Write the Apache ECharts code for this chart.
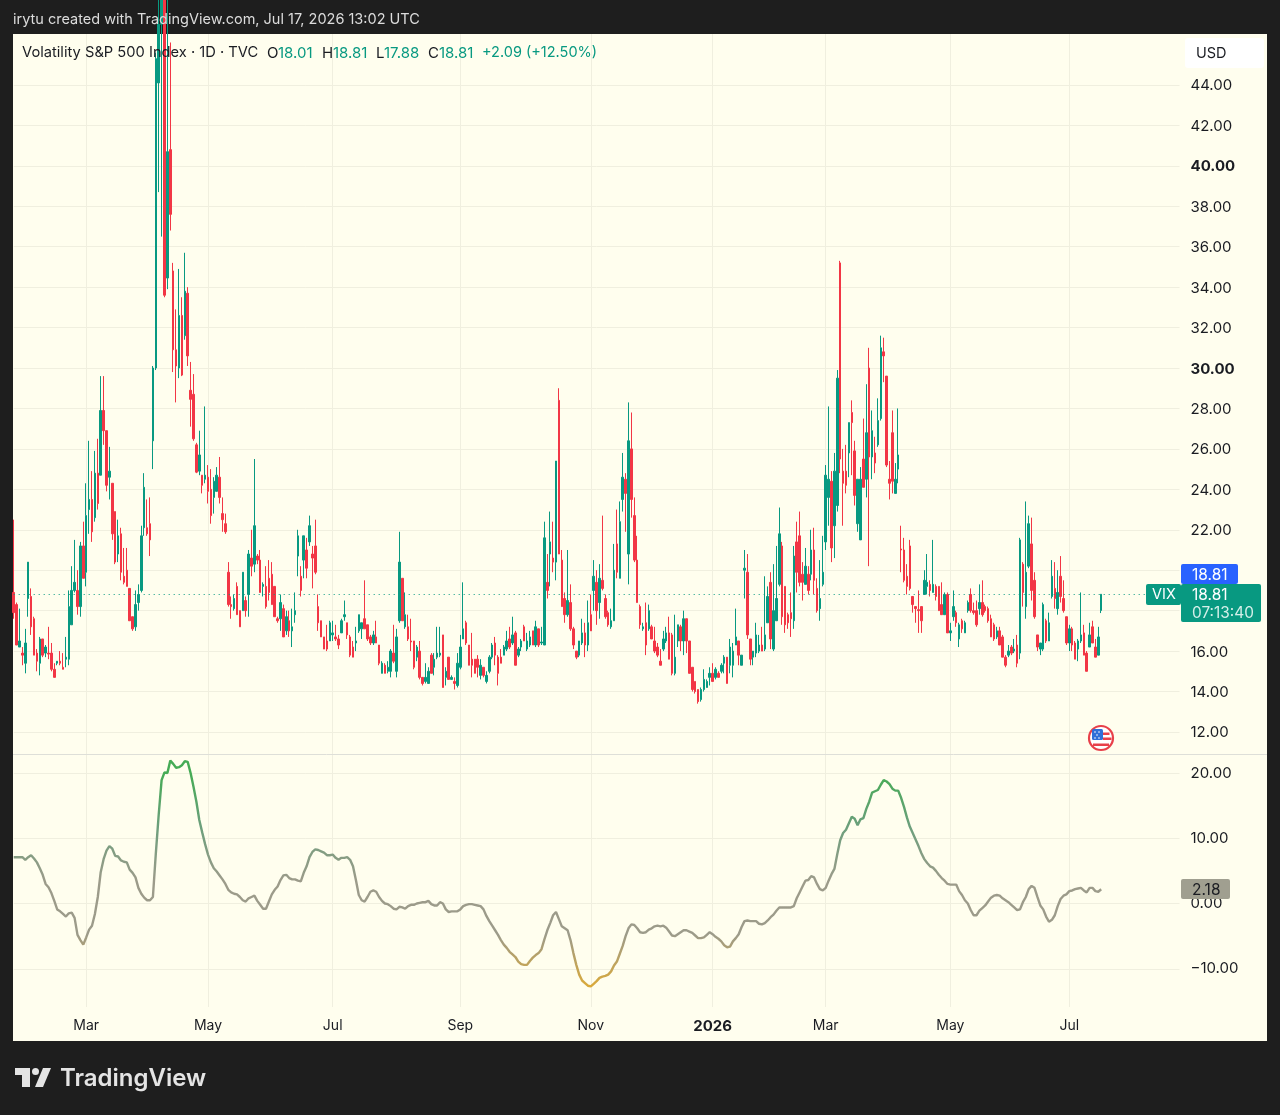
<!DOCTYPE html>
<html>
<head>
<meta charset="utf-8">
<title>Volatility S&P 500 Index</title>
<script src="https://cdn.jsdelivr.net/npm/echarts@6/dist/echarts.min.js"></script>
<style>
  html, body { margin: 0; padding: 0; background: #1e1e1e; }
  #chart { width: 1280px; height: 1115px; }
</style>
</head>
<body>
<div id="chart"></div>
<script>
// Daily VIX bars: open, high, low, close
const ohlc = [
  [18.9,22.5,17.6,17.9],[18.3,18.4,16.3,16.3],[16.2,18.1,16.2,16.5],[15.9,16.2,15.3,15.8],[15.4,17.1,14.9,16.4],
  [18.6,20.4,17.7,20.4],[18.7,19.1,16.8,17.2],[17.6,17.7,15.8,15.8],[15.9,16.1,15,15.5],[15.4,16.7,14.8,16.6],
  [16.6,16.6,15.7,15.8],[15.9,16.3,15.7,16.2],[15.9,17.2,15.6,15.85],[15.9,16.4,15,15.1],[15.1,15.4,14.7,14.7],
  [15.4,15.5,15.3,15.5],[15.5,16,15.3,15.4],[15.2,15.9,15.1,15.1],[15.6,16.7,15.2,15.7],[15.6,19,15.3,18.2],
  [17.3,20.2,17.3,19],[19,21.5,18.9,19.4],[19,20,17.8,18.2],[18.2,21.4,17.7,21.2],[21.2,22.4,19.6,19.6],
  [19.9,24.3,19.2,22.7],[23,26.4,21.8,23.5],[23.5,24.9,21.4,21.9],[22.6,25.9,22.4,24.8],[24.8,26.5,23,23.3],
  [24.7,29.6,24.7,27.9],[27.9,29.6,26.2,26.9],[26.9,26.9,23.9,24.2],[24.6,26.1,23.5,24.9],[24.3,24.3,21.5,21.8],
  [22.9,22.9,20.3,20.4],[20.8,22.5,20.4,21.7],[21.8,22.1,19.5,19.9],[19.7,21.1,19.3,19.4],[20,21.1,19.2,19.2],
  [19.1,19.1,17.5,17.5],[17.7,17.7,17,17.1],[17.2,19,17,18.3],[18.4,19.3,18,18.8],[19,22.2,18.9,21.7],
  [22.1,24.8,21.7,24.1],[22.1,23.5,21.7,21.8],[22.3,23.6,20.7,21.5],[26.4,30.1,25,30],[30,45.6,29.9,45.3],
  [44.1,60,38.7,47],[47,57.5,36.5,52.3],[57,57.5,33.5,33.6],[34.45,54.8,33.9,40.7],[40.8,46.1,36.8,37.6],
  [34.8,35.2,29.8,30.9],[30.9,32.9,28.3,30.1],[30,34.9,29.5,32.6],[32.6,33.5,29.6,29.65],[31.6,35.7,31.4,33.8],
  [33.7,34,30.1,30.6],[28.9,30.3,27.1,28.45],[28.7,29.7,26.4,26.5],[26.2,26.3,24.8,24.85],[24.9,26.9,24.7,25.7],
  [24.7,24.7,23.8,24.2],[24.5,28.1,24.3,24.7],[24.6,25.2,23.3,23.9],[24,25,22.3,22.7],[23.6,24.6,22.8,24.4],
  [23.9,25.1,23.9,24.7],[24.6,25.6,23.3,23.6],[22.8,23.6,21.9,22.5],[22.3,22.8,21.8,21.9],[19.9,20.4,18.2,18.3],
  [18.3,18.7,17.6,18.2],[18.1,18.8,18,18.6],[19.2,19.4,17.8,17.8],[18,18,17.2,17.2],[18,19.9,18,19.9],
  [18.5,18.7,17.7,18],[18.8,21,17.7,20.8],[20.6,22,19.7,20.2],[20.3,25.5,19.9,22.2],[20.7,20.8,20.3,20.5],
  [20.5,21,18.9,18.9],[19.2,19.4,18.7,19.3],[19.2,20.2,18.1,18.2],[19.6,20.5,18.5,18.9],[19.8,20.4,18.3,18.3],
  [19.2,19.2,17.7,17.7],[17.6,17.7,17.4,17.5],[17.6,18.8,17,18.4],[18.1,18.3,16.7,16.7],[17,18,16.8,17.7],
  [17.5,18,16.7,17],[17,18.1,16.2,17.2],[17.8,18.9,17.4,18],[20.7,22,19.7,21.7],[19.7,20.2,18.7,19],
  [20.5,21.7,19.6,21.7],[21,21.6,19.6,20.1],[21.4,22.7,21.2,22.2],[20.8,21.2,19.1,20.6],[21.2,22.5,19.8,19.9],
  [18.2,18.8,17,17.4],[17.5,17.5,16.7,16.7],[16.7,16.7,16.1,16.1],[16.5,17.3,16,16.1],[16.5,17.5,16.5,17.4],
  [16.8,17.5,16.5,16.9],[16.7,17.3,16.5,16.6],[16.6,16.8,16.1,16.3],[16.9,17.6,16.9,17.5],[17.7,18.5,17.5,17.8],
  [17.4,17.4,16.6,16.8],[16.7,16.8,15.7,15.8],[16.2,16.5,15.7,15.7],[16.4,17.2,16,16.5],[17,17.8,16.9,17.8],
  [17.1,17.4,16.6,17.4],[17.6,19.5,17.1,17.1],[17.3,17.3,16.5,16.6],[16.7,16.8,16.3,16.4],[16.4,17,16.3,16.8],
  [16.7,17.5,16.4,16.4],[16.3,16.3,15.3,15.4],[14.9,15.5,14.9,15.4],[15.3,15.4,14.9,14.9],[15,15.5,14.9,15.2],
  [15,16.1,14.7,16],[15.9,17.3,15.4,15.5],[15,17.1,14.7,16.7],[17.5,21.9,17.4,20.4],[19.6,19.6,17.5,17.5],
  [17.2,18.9,17.1,17.8],[17.2,17.8,16.5,16.6],[16.5,17.6,16,16.45],[16.5,16.5,15.1,15.2],[15.7,16.3,15.5,16.2],
  [16,16.5,14.6,14.7],[14.7,14.7,14.3,14.4],[14.5,15.4,14.4,14.7],[14.4,15.2,14.4,15],[15.8,15.9,14.9,14.9],
  [15.2,15.9,14.8,15.6],[15.7,17.2,15.6,15.9],[15.8,17.2,15.7,15.9],[16.8,16.8,14.2,14.2],[14.7,15.2,14.3,15],
  [15.7,15.7,14.6,14.6],[14.6,14.8,14.6,14.7],[14.5,14.7,14.1,14.4],[14.3,15.9,14.2,15.4],[15.2,16.8,15.1,16.2],
  [16.6,19.4,16.6,17.1],[17.4,17.5,16.3,16.4],[16.3,16.3,15.3,15.3],[15.6,16.9,14.7,15.3],[15.6,15.6,14.9,14.9],
  [15.6,15.8,14.7,15.2],[14.8,15.6,14.6,15.3],[15.2,15.2,14.7,14.8],[14.5,15,14.4,14.8],[15,15.8,14.9,15.7],
  [15.7,16.4,15.6,16.3],[16.4,16.7,15.3,15.8],[15.7,15.8,14.3,14.9],[15.7,16.1,15.4,15.4],[15.8,16.3,15.8,16.2],
  [16.1,17,16,16.5],[16.6,17.2,16.1,16.2],[16.4,17.7,16.3,16.8],[16.9,17,15.3,15.3],[15.8,16.2,15.7,16.1],
  [16.2,16.6,16,16.5],[17.2,17.3,16.5,16.5],[16.1,16.9,16,16.5],[16.3,17,16.2,16.7],[17,17,16.3,16.3],
  [16.3,17.5,16.2,17.2],[17.1,17.1,16.2,16.3],[16.4,17.2,16.3,16.45],[16.3,22.4,16.3,21.6],[19.4,20.8,18.6,19],
  [20.8,22.9,19.2,21.4],[20.6,22.4,19.9,20.4],[20.4,25.4,19.5,25.4],[28.4,29,20.8,20.8],[20.5,21,18.2,18.2],
  [18.6,18.9,17.4,17.8],[17.8,21,17.7,18.5],[18.4,19.3,17,17.1],[17.1,17.2,16.1,16.3],[16,16,15.6,15.7],
  [15.8,16.5,15.7,16.5],[16.4,17.6,16.3,16.9],[16.9,17.4,15.7,16.3],[16.3,18.5,16,17.4],[17.8,18.8,17,17],
  [19,20.5,18,19.7],[19.4,20,17.3,18],[18.4,20.3,17.6,19.6],[19.5,22.7,19,19.1],[18.6,18.8,17.6,17.7],
  [17.9,18,17.2,17.3],[17.2,18.1,17.1,17.5],[17.5,21.3,17.5,20],[21.3,23,19.6,19.9],[19.6,23.4,19.6,22.4],
  [23.5,25.8,22.9,24.6],[24.5,24.8,21.9,23.8],[20.8,28.3,19.3,26.4],[26,27.8,22.6,23.5],[22.7,23.6,20.4,20.5],
  [20.5,21.7,18.4,18.4],[18.2,18.3,17.1,17.3],[17.1,17.4,17,17.2],[17.4,18.4,15.8,16.3],[17.1,18.3,17,18],
  [17.2,17.3,16.6,16.6],[16.5,17.2,15.9,16],[16.2,16.4,15.7,15.8],[15.5,16.1,15.3,15.3],[16.1,17,16,16.6],
  [16.5,17.2,16.4,16.9],[16.9,17.7,15.6,15.6],[16.8,16.9,14.8,14.9],[14.9,17.8,14.8,15.7],[16.5,17.3,16.2,17.3],
  [17.2,17.3,16,16.5],[16.5,18,15.8,17.6],[17.6,17.6,15.9,16.5],[16.5,16.5,14.9,14.9],[15.2,15.2,14,14.1],
  [14.5,14.5,13.9,14],[14.1,14.1,13.4,13.5],[13.6,14.2,13.5,14.1],[14.1,15.1,14,14.6],[14.2,14.6,14.2,14.5],
  [14.7,15.2,14.3,14.9],[14.9,15.4,14.5,14.5],[14.7,15.2,14.6,15.1],[14.9,15,14.7,14.7],[15,15.4,14.9,15.3],
  [15.4,15.8,14.9,15.7],[15.7,15.7,14.4,14.4],[15.3,16.6,14.9,16.2],[15.3,16.4,14.7,16],[16.3,18.1,16.3,16.7],
  [16.5,16.5,15.3,15.8],[15.3,15.8,15.3,15.8],[20,21,18.6,20.1],[19.9,20.8,16.6,16.8],[16.6,16.6,15.3,15.6],
  [15.7,16,15.3,16],[15.9,17.4,15.7,16.8],[16,16.8,15.9,16.3],[16.3,17.2,16,16],[16.1,19.7,16,16.8],
  [17.4,19.2,17.4,18.7],[19.4,19.9,16.1,16.6],[16.1,20.3,16,18],[17.5,21.2,17.5,18.6],[19.3,23.1,19.2,21.8],
  [21.2,21.4,17.3,17.7],[19.2,19.2,16.9,17.3],[17.8,17.9,17.1,17.4],[17.9,18.9,16.7,17.6],[17.5,21.2,17.1,20.7],
  [21.4,22.4,18.9,19.9],[21.7,22.9,19.2,19.4],[19.8,20.4,18.5,19.4],[19.3,21.1,19.3,20.2],[19.8,20.2,18.8,19],
  [19.8,22,19.5,21],[21,22.1,18.8,19.5],[19.1,19.6,17.9,18],[18.1,20.5,17.5,18.6],[19.3,21.7,19.2,19.9],
  [21.4,25.2,21,24.7],[23.6,28.1,22.2,24.5],[24.4,24.9,20.4,21.1],[22.2,25.8,20.6,24.9],[23.2,29.9,22.9,29.5],
  [35.2,35.3,24.8,25.5],[24.9,26,22.2,24.3],[24.9,26.2,23.8,24.2],[25.8,27.3,24.6,27.3],[27.8,28.4,24.7,27.3],
  [25.9,26.4,23.2,23.7],[22.3,24.5,21.9,24.5],[21.5,25.1,21.5,24.5],[25.5,27.5,24.1,24.1],[24.5,29.2,23.6,26.8],
  [30,31,20.2,25.6],[25.6,27.9,24.5,26.9],[25.8,26.6,24.8,25.3],[26.2,28.5,26.1,27.4],[27.5,31.6,27.4,31],
  [30.8,31.5,29.3,30.6],[29.6,29.6,25.1,25.2],[24.5,25.4,23.5,24.3],[26.8,27.9,23.8,24.4],[23.8,25.3,23.8,24.5],
  [25,28,24.3,25.7],[21.05,22.2,19.9,21],[21,21.6,19.4,19.5],[19.7,20.3,18.8,19.2],[21.2,21.5,19,19.1],
  [18.7,18.7,17.9,18.3],[18.2,18.2,17.4,18.1],[18.05,19,16.9,18],[18.2,18.2,16.9,17.5],[18.8,20,18.8,19.5],
  [19.2,20.8,18.8,19.4],[19.3,19.5,18.7,19],[18.9,21.5,18.9,19.3],[19.2,19.3,18.5,18.7],[19.2,19.2,18,18],
  [18.3,19.4,17.8,17.8],[17.8,18.9,17.8,18.8],[18.8,18.9,16.9,16.9],[16.9,17.4,16.5,17],[17.7,19,17.5,18.2],
  [17.9,18,17.2,17.4],[16.6,17.4,16.2,17.3],[17.5,17.6,16.9,17.1],[16.9,17.5,16.9,17.4],[18,18.5,17.9,18.4],
  [18.8,19.1,17.9,18],[18,18.4,17.8,17.9],[18,18.5,17.2,17.3],[18.1,19.3,17.8,18.4],[18.4,19.5,17.7,17.8],
  [18.2,18.3,17.9,18],[18.1,18.2,17.4,17.5],[17.6,17.8,16.7,16.7],[17.3,17.4,16.5,16.6],[16.7,17.2,16.6,17],
  [17,17.2,16.3,16.3],[16.7,16.8,15.7,15.7],[15.7,15.8,15.2,15.3],[15.8,16.3,15.7,16],[16.2,16.3,15.8,15.9],
  [16,16.6,15.9,16.1],[16.3,16.8,15.2,15.4],[15.9,21.6,15.6,21.5],[20.3,20.4,18.2,18.9],[18.2,23.4,17.6,19.9],
  [20.2,22.7,20.1,22.3],[21.3,22.6,18.5,19],[19.5,19.9,17.6,17.7],[16.8,16.8,16,16.2],[16.1,16.4,15.8,16.4],
  [16.1,18.4,16,18.3],[17.5,17.6,16.4,16.5],[16.5,17.9,16.5,17.4],[18.7,20.5,18.6,19.7],[19.1,20.4,18.1,18.6],
  [18.1,20,17.8,18.9],[19.7,20.7,18.4,18.7],[18.6,19.5,17.9,18],[17.7,17.7,16.3,16.4],[16.4,17.3,16,17.1],
  [17.1,17.2,16,16.3],[16.4,16.5,15.6,15.6],[16.1,16.6,15.5,16.5],[16.5,18.9,16.4,16.8],[16.9,17.3,15.8,15.8],
  [15.9,16,15,15],[16.2,17.4,16.2,16.8],[17.2,17.5,16.4,16.4],[16.2,16.6,15.7,15.7],[15.8,17.2,15.8,16.7],
  [18.01,18.81,17.88,18.81]
];

// Smoothed oscillator drawn in the lower pane, one value per bar
const oscillator = [
  7.1,7.1,7.1,7.1,6.7,7.1,7.4,6.9,6.3,5.4,
  4.4,3.0,2.5,1.6,0.4,-0.9,-1.2,-1.6,-2.0,-1.5,
  -1.4,-2.2,-4.8,-5.6,-6.3,-5.2,-4.0,-3.4,-1.6,1.0,
  4.8,6.8,8.1,8.8,8.4,7.3,7.2,6.6,6.4,6.3,
  5.2,4.7,4.0,2.4,1.5,0.9,0.5,0.5,1.0,7.6,
  13.6,18.9,20.1,20,21.9,21.4,20.8,20.9,21.2,21.8,
  21.7,20.0,17.9,15.6,12.8,10.9,9.1,7.5,6.3,5.4,
  4.9,4.3,3.7,3.0,2.1,1.7,1.5,1.4,1.0,0.5,
  0.3,0.8,1.0,1.2,0.4,-0.2,-0.8,-0.8,0.3,1.4,
  2.1,2.6,3.6,4.3,4.4,3.9,3.7,3.7,3.5,3.4,
  4.7,5.7,7.1,7.9,8.3,8.2,8.0,7.8,7.4,7.4,
  7.5,7.0,6.7,7.0,7.0,7.1,6.7,5.7,3.6,1.3,
  0.5,0.3,1.0,1.8,2.0,1.8,1.0,0.4,0,-0.1,
  -0.4,-0.8,-0.9,-0.5,-0.6,-0.8,-0.4,-0.2,-0.2,0.0,
  0.1,0.2,0.2,0.4,-0.1,-0.3,-0.3,0.2,0.0,-0.9,
  -1.3,-1.2,-1.2,-1.2,-0.9,-0.4,-0.2,-0.1,-0.1,-0.2,
  -0.3,-0.4,-0.9,-1.9,-2.7,-3.4,-4.1,-4.8,-5.6,-6.3,
  -6.8,-7.4,-7.8,-8.2,-8.9,-9.3,-9.4,-9.4,-8.8,-8.3,
  -7.9,-7.6,-7.0,-5.5,-4.1,-3.0,-1.8,-1.3,-2.4,-3.5,
  -3.8,-4.1,-5.6,-7.6,-9.4,-10.9,-11.8,-12.2,-12.6,-12.7,
  -12.3,-11.9,-11.4,-11.2,-11.1,-10.9,-10.4,-9.5,-8.9,-7.7,
  -6.5,-5.0,-3.8,-3.2,-3.3,-3.8,-4.4,-4.5,-4.4,-4.0,
  -3.8,-3.5,-3.4,-3.5,-3.4,-3.7,-4.3,-4.9,-5.0,-4.7,
  -4.4,-4.1,-4.1,-4.3,-4.5,-4.9,-5.3,-5.3,-5.2,-4.8,
  -4.4,-4.7,-5.1,-5.4,-5.8,-6.4,-6.7,-6.6,-5.8,-5.3,
  -4.7,-3.6,-2.7,-2.6,-2.7,-2.7,-2.7,-3.1,-3.2,-3.0,
  -2.6,-2.1,-1.7,-1.1,-0.6,-0.6,-0.6,-0.6,-0.6,-0.4,
  0.8,1.7,2.6,3.5,3.6,4.2,4.0,3.0,2.2,2.0,
  2.4,3.5,4.5,5.3,7.6,9.7,10.8,11.3,12.3,13.3,
  13.0,12.0,12.9,13.1,14.5,15.6,17.0,17.2,17.4,18.2,
  18.9,18.7,18.3,17.6,17.3,17.3,16.2,14.8,13.2,11.8,
  10.8,9.8,8.8,7.7,6.8,6.2,5.7,5.5,5.0,4.4,
  3.9,3.5,3.0,2.9,2.9,2.9,1.9,1.3,0.5,0,
  -1.0,-1.8,-1.8,-1.1,-0.7,-0.3,0.3,0.9,1.2,1.3,
  1.2,0.8,0.5,0.2,-0.2,-0.6,-1.0,-0.9,0.2,1.0,
  2.2,2.7,2.4,1.0,-0.3,-0.9,-2.0,-2.8,-2.5,-1.8,
  -0.4,0.7,1.2,1.4,1.9,2.0,2.2,2.3,2.4,2.0,
  1.7,2.4,2.4,1.9,1.8,2.18
];

// Bar slots on the time axis, including the empty stretch after the last session
const slotCount = 403;
const slots = Array.from({ length: slotCount }, (_, i) => String(i));

// Time axis labels and the bar each one sits on
const tickIndex = [25, 67, 110, 154, 199, 241, 280, 323, 364];
const tickLabels = ['Mar', 'May', 'Jul', 'Sep', 'Nov', '2026', 'Mar', 'May', 'Jul'];

// Price and oscillator scale ticks
const priceTicks = [12,14,16,18,20,22,24,26,28,30,32,34,36,38,40,42,44];
const boldPriceTicks = [30, 40];
const oscTicks = [-10, 0, 10, 20];

const lastClose = 18.81;
const FONT = 'Inter, "Noto Sans", sans-serif';
const INK = '#1a1c22';
const UP = '#089981';
const DOWN = '#f23645';
const GRIDLINE = '#f0efdf';

const isTick = i => tickIndex.includes(i);

function timeAxis(gridIndex, showLabels) {
  return {
    type: 'category',
    gridIndex,
    data: slots,
    boundaryGap: false,
    axisLine: { show: false },
    axisTick: { show: false },
    splitLine: { show: true, interval: isTick, lineStyle: { color: GRIDLINE, width: 1 } },
    axisLabel: {
      show: showLabels,
      interval: isTick,
      margin: 12,
      color: INK,
      fontFamily: FONT,
      fontSize: 14,
      formatter: v => {
        const label = tickLabels[tickIndex.indexOf(Number(v))];
        return label === '2026' ? '{b|2026}' : label;
      },
      rich: { b: { fontWeight: 700, fontFamily: FONT, fontSize: 15, color: INK } }
    }
  };
}

function text(x, y, str, color, size, extra) {
  return {
    type: 'text', x, y, z: 50,
    style: Object.assign({
      text: str, fill: color, font: size + 'px ' + FONT, textVerticalAlign: 'middle'
    }, extra || {})
  };
}
function box(x, y, width, height, fill, r) {
  return { type: 'rect', z: 49, shape: { x, y, width, height, r: r || 0 }, style: { fill } };
}
function star(cx, cy) {
  return { type: 'circle', z: 50, shape: { cx, cy, r: 0.8 }, style: { fill: '#ffffff' } };
}

const graphics = [
  // chart panel and pane divider
  { type: 'rect', z: -10, shape: { x: 13, y: 34, width: 1254, height: 1007 }, style: { fill: '#fffeee' } },
  { type: 'line', z: 1, shape: { x1: 13, y1: 754.5, x2: 1267, y2: 754.5 }, style: { stroke: '#dedfd8', lineWidth: 1 } },

  // caption above the chart
  text(13, 20, 'irytu created with TradingView.com, Jul 17, 2026 13:02 UTC', '#dcdcdc', 14.5),

  // symbol header
  text(22, 53, 'Volatility S&P 500 Index · 1D · TVC', INK, 14.7),
  text(267, 53, 'O', INK, 15), text(278, 53, '18.01', UP, 15),
  text(322, 53, 'H', INK, 15), text(333, 53, '18.81', UP, 15),
  text(376, 53, 'L', INK, 15), text(384, 53, '17.88', UP, 15),
  text(428, 53, 'C', INK, 15), text(439, 53, '18.81', UP, 15),
  text(482, 53, '+2.09 (+12.50%)', UP, 14.5),

  // currency button
  box(1185, 38, 79, 30, '#ffffff', 3),
  text(1196, 54, 'USD', INK, 14.5),

  // price tags on the right scale
  box(1181, 564, 57, 20, '#2962ff', 2),
  text(1192, 575, '18.81', '#ffffff', 15.5),
  box(1146, 584, 35, 21, UP, 2),
  text(1152, 595, 'VIX', '#ffffff', 14.5),
  box(1181, 584, 80, 38, UP, 2),
  text(1192, 595, '18.81', '#ffffff', 15.5),
  text(1192, 613, '07:13:40', '#d4efe9', 15.4),

  // oscillator tag
  box(1181, 879, 49, 20, '#a09f90', 2),
  text(1192, 890, '2.18', INK, 15.5),

  // country badge
  { type: 'circle', z: 48, shape: { cx: 1101, cy: 738, r: 12 }, style: { fill: '#ffffff', stroke: '#e8404a', lineWidth: 2.2 } },
  box(1092, 729, 11, 11, '#2f6fd8', 1.5),
  star(1095, 732), star(1099, 732), star(1097, 735), star(1095, 738), star(1099, 738),
  box(1103, 732.5, 6.5, 2.5, '#e8404a'),
  box(1103, 737.5, 8.5, 2.5, '#e8404a'),
  box(1093, 743.5, 16, 2.5, '#e8404a'),

  // wordmark in the footer
  { type: 'polygon', z: 50, shape: { points: [[15,1068],[30,1068],[30,1087],[22,1087],[22,1075],[15,1075]] }, style: { fill: '#e4e4e4' } },
  { type: 'circle', z: 50, shape: { cx: 35.5, cy: 1071.5, r: 3.5 }, style: { fill: '#e4e4e4' } },
  { type: 'polygon', z: 50, shape: { points: [[43,1068],[51,1068],[43,1087],[35,1087]] }, style: { fill: '#e4e4e4' } },
  text(60, 1079, 'TradingView', '#e4e4e4', 24, { font: '600 24px ' + FONT })
];

const chart = echarts.init(document.getElementById('chart'), null, { renderer: 'canvas' });
chart.setOption({
  animation: false,
  backgroundColor: 'transparent',
  grid: [
    { left: 13.7, top: 34, width: 1165.8, height: 720 },
    { left: 13.7, top: 755, width: 1165.8, height: 252 }
  ],
  xAxis: [timeAxis(0, false), timeAxis(1, true)],
  yAxis: [
    {
      type: 'value', gridIndex: 0, position: 'right', min: 10.91, max: 46.52, scale: true,
      axisLine: { show: false },
      axisTick: { show: false, customValues: priceTicks },
      splitLine: { show: true, lineStyle: { color: GRIDLINE, width: 1 } },
      axisLabel: {
        customValues: priceTicks, margin: 11, color: INK, fontFamily: FONT, fontSize: 15,
        padding: [2, 0, 0, 0],
        formatter: v => boldPriceTicks.includes(v) ? '{b|' + v.toFixed(2) + '}' : v.toFixed(2),
        rich: { b: { fontWeight: 700, fontFamily: FONT, fontSize: 15, color: INK } }
      }
    },
    {
      type: 'value', gridIndex: 1, position: 'right', min: -15.86, max: 22.76, scale: true,
      axisLine: { show: false },
      axisTick: { show: false, customValues: oscTicks },
      splitLine: { show: true, lineStyle: { color: GRIDLINE, width: 1 } },
      axisLabel: {
        customValues: oscTicks, margin: 11, color: INK, fontFamily: FONT, fontSize: 15,
        padding: [4, 0, 0, 0],
        formatter: v => v.toFixed(2).replace('-', '\u2212')
      }
    }
  ],
  visualMap: {
    show: false, type: 'continuous', seriesIndex: 1, dimension: 1, min: -13, max: 20,
    inRange: { color: ['#dcaa37', '#9c9b8a', '#9c9b8a', '#6c9f7c', '#45ab55'] }
  },
  series: [
    {
      type: 'candlestick', xAxisIndex: 0, yAxisIndex: 0, clip: true, barWidth: 2,
      data: ohlc.map(([o, h, l, c]) => [o, c, l, h]),
      itemStyle: { color: UP, color0: DOWN, borderColor: UP, borderColor0: DOWN, borderWidth: 1 },
      markLine: {
        silent: true, symbol: 'none', label: { show: false },
        lineStyle: { color: UP, type: [1, 4], width: 1 },
        data: [{ yAxis: lastClose }]
      }
    },
    {
      type: 'line', xAxisIndex: 1, yAxisIndex: 1, symbol: 'none', clip: true,
      data: oscillator, lineStyle: { width: 2.4 }
    }
  ],
  graphic: graphics
});
</script>
</body>
</html>
